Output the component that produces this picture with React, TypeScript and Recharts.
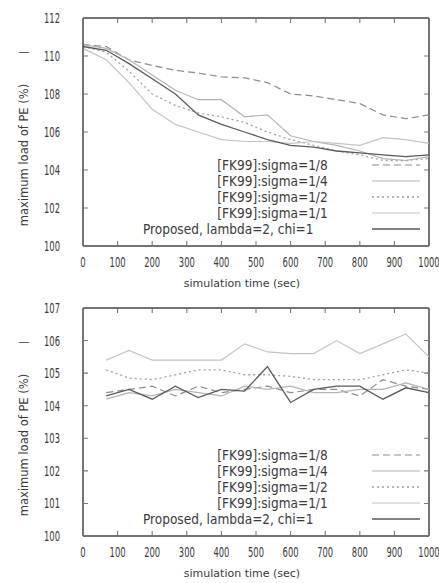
import { LineChart, Line, XAxis, YAxis, Legend, ReferenceLine } from "recharts";

// simulation time (sec)
const timeTop = [0, 67, 133, 200, 267, 333, 400, 467, 533, 600, 667, 733, 800, 867, 933, 1000];
const timeBottom = [67, 133, 200, 267, 333, 400, 467, 533, 600, 667, 733, 800, 867, 933, 1000];

// upper plot, max load of PE (%)
const topS8 = [110.6, 110.5, 109.8, 109.5, 109.25, 109.1, 108.9, 108.85, 108.6, 108.0, 107.9, 107.7, 107.5, 106.9, 106.7, 106.9];
const topS4 = [110.6, 110.4, 109.8, 109.0, 108.2, 107.7, 107.7, 106.8, 106.9, 105.8, 105.5, 105.3, 105.0, 104.6, 104.5, 104.7];
const topS2 = [110.5, 110.2, 109.2, 108.0, 107.4, 107.0, 106.8, 106.5, 106.0, 105.6, 105.3, 105.0, 104.8, 104.5, 104.5, 104.6];
const topS1 = [110.4, 109.8, 108.6, 107.2, 106.4, 106.0, 105.6, 105.5, 105.5, 105.4, 105.5, 105.4, 105.3, 105.7, 105.6, 105.4];
const topProp = [110.5, 110.3, 109.6, 108.8, 108.0, 106.9, 106.4, 106.0, 105.6, 105.3, 105.2, 105.0, 104.9, 104.8, 104.7, 104.8];

// lower plot
const botS8 = [104.4, 104.5, 104.6, 104.3, 104.6, 104.4, 104.5, 104.6, 104.4, 104.5, 104.5, 104.3, 104.8, 104.6, 104.5];
const botS4 = [104.2, 104.4, 104.3, 104.5, 104.4, 104.3, 104.6, 104.5, 104.6, 104.4, 104.4, 104.5, 104.5, 104.7, 104.5];
const botS2 = [105.1, 104.85, 104.8, 104.95, 105.1, 105.1, 104.95, 104.95, 104.9, 104.8, 104.8, 104.8, 104.95, 105.1, 105.0];
const botS1 = [105.4, 105.7, 105.4, 105.4, 105.4, 105.4, 105.9, 105.65, 105.6, 105.6, 106.0, 105.6, 105.9, 106.2, 105.5];
const botProp = [104.3, 104.5, 104.2, 104.6, 104.25, 104.5, 104.45, 105.2, 104.1, 104.5, 104.6, 104.6, 104.2, 104.55, 104.4];

const seriesNames = [
  "[FK99]:sigma=1/8",
  "[FK99]:sigma=1/4",
  "[FK99]:sigma=1/2",
  "[FK99]:sigma=1/1",
  "Proposed, lambda=2, chi=1",
];

const xTicks = [0, 100, 200, 300, 400, 500, 600, 700, 800, 900, 1000];
const yTicksTop = [100, 102, 104, 106, 108, 110, 112];
const yTicksBottom = [100, 101, 102, 103, 104, 105, 106, 107];

const FONT = '"DejaVu Sans", "Liberation Sans", sans-serif';
const INK = "#3a3a3a";
const AXIS = "#444";
const PLOT_W = 346;
const PLOT_H = 228;

const styles = [
  { stroke: "#8c8c8c", dash: "7 4", width: 1.2 },
  { stroke: "#b4b4b4", dash: undefined, width: 1.2 },
  { stroke: "#a0a0a0", dash: "2 3", width: 1.3 },
  { stroke: "#c4c4c4", dash: undefined, width: 1.2 },
  { stroke: "#5a5a5a", dash: undefined, width: 1.3 },
];

function buildRows(time: number[], cols: number[][]) {
  return time.map((t, i) => {
    const row: Record<string, number> = { t };
    cols.forEach((c, k) => (row["s" + k] = c[i]));
    return row;
  });
}

const topData = buildRows(timeTop, [topS8, topS4, topS2, topS1, topProp]);
const bottomData = buildRows(timeBottom, [botS8, botS4, botS2, botS1, botProp]);

// gnuplot style: inward ticks on all four sides, narrow tall digits
function XTick(props: any) {
  const { x, y, payload } = props;
  return (
    <g>
      <path d={`M${x},${y}v-5M${x},${y - PLOT_H}v5`} stroke="#777" strokeWidth={1.1} fill="none" />
      <g transform={`translate(${x},${y + 11})`}>
        <text transform="scale(0.6,1)" y={10} textAnchor="middle" fontFamily={FONT} fontSize={14} fill={INK}>
          {payload.value}
        </text>
      </g>
    </g>
  );
}

function YTick(props: any) {
  const { x, y, payload } = props;
  return (
    <g>
      <path d={`M${x},${y}h5M${x + PLOT_W},${y}h-5`} stroke="#777" strokeWidth={1.1} fill="none" />
      <g transform={`translate(${x - 23},${y})`}>
        <text transform="scale(0.6,1)" y={5} textAnchor="end" fontFamily={FONT} fontSize={14} fill={INK}>
          {payload.value}
        </text>
      </g>
    </g>
  );
}

function LegendBox() {
  return (
    <div style={{ fontFamily: FONT, fontSize: 13.5, color: INK, lineHeight: "16px" }}>
      {seriesNames.map((name, i) => (
        <div key={name} style={{ display: "flex", justifyContent: "flex-end", alignItems: "center", height: 16 }}>
          <span
            style={{
              marginRight: i === 4 ? 59 : 44,
              display: "inline-block",
              transform: "scaleX(0.9)",
              transformOrigin: "right center",
              whiteSpace: "nowrap",
            }}
          >
            {name}
          </span>
          <svg width={48} height={16} style={{ display: "block" }}>
            <line
              x1={0}
              x2={48}
              y1={8}
              y2={8}
              stroke={styles[i].stroke}
              strokeWidth={styles[i].width}
              strokeDasharray={styles[i].dash}
            />
          </svg>
        </div>
      ))}
    </div>
  );
}

function YLabel(props: any) {
  const vb = props.viewBox || { x: 0, y: 18, height: 228 };
  const cx = vb.x + 24;
  const cy = vb.y + 137;
  return (
    <g>
      <text
        x={cx}
        y={cy}
        transform={`rotate(-90 ${cx} ${cy})`}
        textAnchor="middle"
        dominantBaseline="central"
        fontFamily={FONT}
        fontSize={11.5}
        fill={INK}
      >
        maximum load of PE (%)
      </text>
      <text x={cx} y={vb.y + 33} textAnchor="middle" dominantBaseline="central" fontFamily={FONT} fontSize={11} fill={INK}>
        —
      </text>
    </g>
  );
}

function Panel({ data, yMax, yTicks }: { data: Record<string, number>[]; yMax: number; yTicks: number[] }) {
  return (
    <LineChart width={439} height={290} data={data} margin={{ top: 18, right: 10, bottom: 0, left: 0 }}>
      <XAxis
        dataKey="t"
        type="number"
        domain={[0, 1000]}
        ticks={xTicks}
        interval={0}
        height={44}
        tickSize={0}
        tickMargin={0}
        tickLine={false}
        stroke={AXIS}
        strokeWidth={1.5}
        tick={<XTick />}
        label={{
          value: "simulation time (sec)",
          position: "insideBottom",
          offset: 3,
          dx: -14,
          fontFamily: FONT,
          fontSize: 11,
          fill: INK,
        }}
      />
      <YAxis
        domain={[100, yMax]}
        ticks={yTicks}
        interval={0}
        width={83}
        tickSize={0}
        tickMargin={0}
        tickLine={false}
        stroke={AXIS}
        strokeWidth={1.5}
        tick={<YTick />}
        label={{ content: YLabel }}
      />
      {/* close the plot box on top and right */}
      <ReferenceLine y={yMax} stroke={AXIS} strokeWidth={1.5} ifOverflow="extendDomain" />
      <ReferenceLine x={1000} stroke={AXIS} strokeWidth={1.5} ifOverflow="extendDomain" />
      <Legend
        layout="horizontal"
        verticalAlign="middle"
        content={() => <LegendBox />}
        wrapperStyle={{ position: "absolute", left: 0, top: 157, width: 420 }}
      />
      {seriesNames.map((name, i) => (
        <Line
          key={name}
          name={name}
          dataKey={"s" + i}
          type="linear"
          stroke={styles[i].stroke}
          strokeWidth={styles[i].width}
          strokeDasharray={styles[i].dash}
          dot={false}
          isAnimationActive={false}
        />
      ))}
    </LineChart>
  );
}

export default function App() {
  return (
    <div style={{ width: 439, height: 583, background: "#fff" }}>
      <style>{"body{margin:0}"}</style>
      <Panel data={topData} yMax={112} yTicks={yTicksTop} />
      <Panel data={bottomData} yMax={107} yTicks={yTicksBottom} />
    </div>
  );
}
